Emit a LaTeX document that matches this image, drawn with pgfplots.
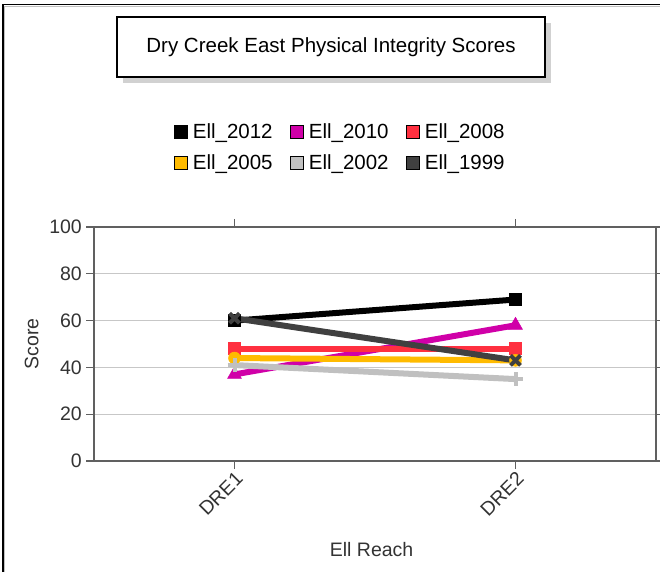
\documentclass[border=0pt]{standalone}
\usepackage{pgfplots}
\pgfplotsset{compat=1.18}
\usepackage{fontspec}
\setmainfont{Liberation Sans}

\definecolor{c2012}{HTML}{000000}
\definecolor{c2010}{HTML}{D000A8}
\definecolor{c2008}{HTML}{FF3040}
\definecolor{c2005}{HTML}{FFBB00}
\definecolor{c2002}{HTML}{C0C0C0}
\definecolor{c1999}{HTML}{404040}
\definecolor{axisgray}{HTML}{606060}
\definecolor{txt}{HTML}{333333}

\begin{document}
\begin{tikzpicture}
\useasboundingbox (0pt,0pt) rectangle (660pt,572pt);
% frame of the image (left and top only)
\draw[c2002, line width=1pt] (4.5pt,0pt) -- (4.5pt,565.5pt) -- (660pt,565.5pt);
\draw[black, line width=1.5pt] (2.8pt,0pt) -- (2.8pt,567.3pt) -- (660pt,567.3pt);
% title box with shadow
\fill[black!18] (123pt,489pt) rectangle (551pt,549pt);
\draw[black, line width=1.3pt, fill=white] (117pt,495pt) rectangle (545pt,555pt);
\node[font=\fontsize{20.5}{24}\selectfont, text=black] at (331pt,525pt) {Dry Creek East Physical Integrity Scores};

\begin{axis}[
    at={(94pt,111pt)}, anchor=south west,
    width=562pt, height=234pt, scale only axis,
    xmin=-0.5, xmax=1.5,
    ymin=0, ymax=100,
    xtick={0,1}, xticklabels={DRE1,DRE2},
    ytick={0,20,40,60,80,100},
    tick align=outside,
    major tick length=8pt,
    axis line style={axisgray, line width=1.3pt},
    tick style={axisgray, line width=1.3pt},
    ymajorgrids,
    grid style={black!22, line width=1pt},
    ticklabel style={font=\fontsize{19.5}{22}\selectfont, text=txt},
    /pgf/number format/assume math mode=true,
    xticklabel style={rotate=45, anchor=north east, inner sep=1pt},
    yticklabel style={inner sep=4pt},
    xlabel={Ell Reach}, ylabel={Score},
    label style={font=\fontsize{19.5}{22}\selectfont, text=txt},
    xlabel style={at={(axis description cs:0.494,-0.38)}, anchor=center},
    ylabel style={at={(axis description cs:-0.111,0.5)}, anchor=center},
    every axis plot/.append style={line width=6pt},
    legend columns=3,
    legend style={at={(0.438,1.34)}, anchor=center, draw=none, fill=none,
        font=\fontsize{20.5}{23}\selectfont, text=black,
        column sep=15pt, row sep=11pt,
        /tikz/every odd column/.style={column sep=3pt}},
    legend image code/.code={
        \draw[#1, draw=black, solid, line width=1.2pt, fill] (0pt,-6.5pt) rectangle (13pt,6.5pt);
    },
]
\addplot[color=c2012, mark=square*, mark size=6pt, mark options={solid, line width=0.5pt}]
    coordinates {(0,60) (1,69)};
\addlegendentry{Ell\_2012}
\addplot[color=c2010, mark=triangle*, mark size=8pt, mark options={solid, line width=0.5pt}]
    coordinates {(0,37) (1,58)};
\addlegendentry{Ell\_2010}
\addplot[color=c2008, mark=square*, mark size=6pt, mark options={solid, line width=0.5pt}]
    coordinates {(0,48) (1,48)};
\addlegendentry{Ell\_2008}
\addplot[color=c2005, mark=*, mark size=6pt, mark options={solid, line width=0.5pt}]
    coordinates {(0,44) (1,43)};
\addlegendentry{Ell\_2005}
\addplot[color=c2002, mark=+, mark size=7pt, mark options={solid, line width=4pt}]
    coordinates {(0,41) (1,35)};
\addlegendentry{Ell\_2002}
\addplot[color=c1999, mark=x, mark size=7pt, mark options={solid, line width=4pt}]
    coordinates {(0,61) (1,43)};
\addlegendentry{Ell\_1999}
\end{axis}
\end{tikzpicture}
\end{document}
